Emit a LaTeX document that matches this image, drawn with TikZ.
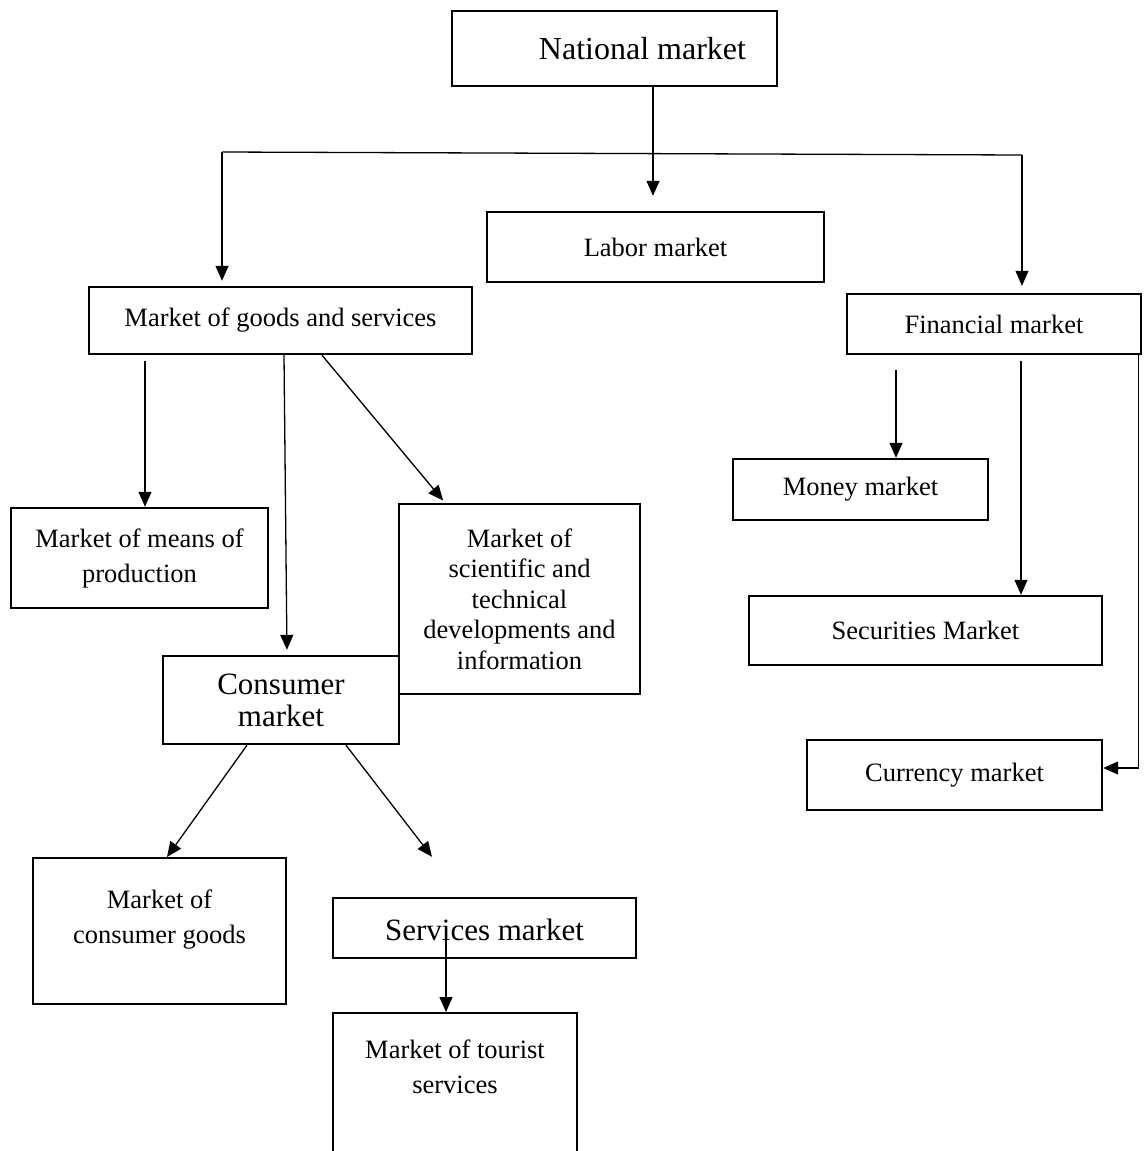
\documentclass[tikz,border=0pt]{standalone}
\usepackage{fontspec}
\setmainfont{Liberation Serif}
\usetikzlibrary{arrows.meta}
\begin{document}
\begin{tikzpicture}[x=1pt,y=-1pt,
  box/.style={draw,line width=2.4pt,fill=white,align=center,inner sep=0pt,
    font=\fontsize{26.5}{35}\selectfont},
  big/.style={font=\fontsize{31}{32}\selectfont},
  arr/.style={line width=1.3pt,-{Triangle[length=15pt,width=13pt]}}]
\useasboundingbox (0,0) rectangle (1143,1151);
\clip (0,0) rectangle (1143,1151);
% boxes
\node[box,big,minimum width=325,minimum height=75,font=\fontsize{32}{33}\selectfont](nat) at(614.5,48.5)
  {\hspace*{56pt}National market};
\node[box,minimum width=337,minimum height=70](labor) at(655.5,247){Labor market};
\node[box,minimum width=383,minimum height=67](goods) at(280.5,320.5){Market of goods and services};
\node[box,minimum width=294,minimum height=60](fin) at(994,324){Financial market};
\node[box,minimum width=257,minimum height=100](means) at(139.5,558){Market of means of\\production};
\node[box,minimum width=241,minimum height=190,font=\fontsize{26.5}{30.5}\selectfont](sci) at(519.5,599)
  {Market of\\scientific and\\technical\\developments and\\information};
\node[box,big,minimum width=236,minimum height=88](cons) at(281,700){Consumer\\market};
\node[box,minimum width=255,minimum height=61](money) at(860.5,489.5){Money market};
\node[box,minimum width=353,minimum height=69](secur) at(925.5,630.5){Securities Market};
\node[box,minimum width=295,minimum height=70](curr) at(954.5,775){Currency market};
\node[box,anchor=north,minimum width=253,text depth=61pt](cgoods) at(159.5,857)
  {\rule{0pt}{50pt}Market of\\consumer goods};
\node[box,big,minimum width=303,minimum height=60](serv) at(484.5,928){\rule{0pt}{25pt}Services market};
\node[box,anchor=north,minimum width=244,text depth=118pt](tour) at(455,1012)
  {\rule{0pt}{45pt}Market of tourist\\services};
% connectors
\coordinate (bl) at(222,152);
\coordinate (br) at(1022,155);
\draw[line width=1.3pt] (bl)--(br);
\draw[arr,shorten >=15pt] ([xshift=38.5]nat.south)--([xshift=-2.5]labor.north);
\draw[arr,shorten >=5pt] (bl)--(bl |- goods.north);
\draw[arr,shorten >=7pt] (br)--(br |- fin.north);
\draw[arr] ([xshift=-135.5,yshift=-6]goods.south)--([xshift=5.5]means.north);
\draw[arr,shorten >=5pt] ([xshift=3.5]goods.south)--([xshift=6]cons.north);
\draw[arr,shorten >=3pt] ([xshift=41.5]goods.south)--([xshift=-74.5]sci.north);
\draw[arr] ([xshift=-98,yshift=-15]fin.south)--([xshift=35.5]money.north);
\draw[arr] ([xshift=27,yshift=-6]fin.south)--([xshift=95.5]secur.north);
\draw[arr] ([xshift=-4]fin.south east) |- ([yshift=7]curr.east);
\draw[arr] ([xshift=-34]cons.south)--([xshift=7.5]cgoods.north);
\draw[arr] ([xshift=65]cons.south)--([xshift=-52.5,yshift=40]serv.north);
\draw[arr] ([xshift=-38.5,yshift=-2]serv.center)--([xshift=-9]tour.north);
\end{tikzpicture}
\end{document}
